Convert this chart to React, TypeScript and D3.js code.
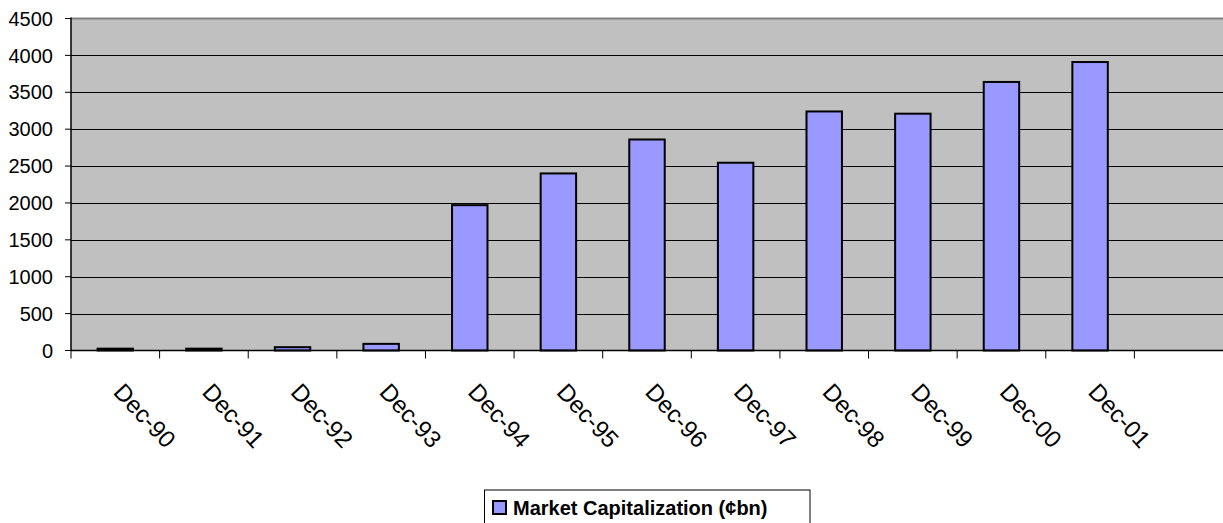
import React from "react";
import * as d3 from "d3";

const categories = ["Dec-90", "Dec-91", "Dec-92", "Dec-93", "Dec-94", "Dec-95", "Dec-96", "Dec-97", "Dec-98", "Dec-99", "Dec-00", "Dec-01", ""];
const marketCap: (number | null)[] = [25, 25, 45, 90, 1970, 2400, 2860, 2545, 3240, 3210, 3640, 3910, null];
const yTicks = [0, 500, 1000, 1500, 2000, 2500, 3000, 3500, 4000, 4500];
const seriesName = "Market Capitalization (¢bn)";

const W = 1223;
const H = 523;
const plotLeft = 71;
const plotRight = 1223;
const plotTop = 18.5;
const plotBottom = 350.5;
const FONT = "'Liberation Sans', Arial, Helvetica, sans-serif";

export default function App() {
  const x = d3.scaleBand<string>().domain(categories.map((c, i) => String(i))).range([plotLeft, plotRight]).padding(0);
  const y = d3.scaleLinear().domain([0, 4500]).range([plotBottom, plotTop]);
  const step = x.step();
  const barW = step * 0.4;

  return (
    <svg width={W} height={H} style={{ position: "absolute", left: 0, top: 0, background: "#fff" }} fontFamily={FONT}>
      <rect x={plotLeft} y={plotTop} width={plotRight - plotLeft} height={plotBottom - plotTop} fill="#C0C0C0" />
      {yTicks.filter((t) => t > 0 && t < 4500).map((t) => (
        <line key={"g" + t} x1={plotLeft} x2={plotRight} y1={Math.round(y(t)) + 0.5} y2={Math.round(y(t)) + 0.5} stroke="#000" strokeWidth={1} />
      ))}
      <line x1={plotLeft} x2={plotRight} y1={plotTop} y2={plotTop} stroke="#808080" strokeWidth={2} />
      {marketCap.map((v, i) =>
        v == null ? null : (
          <rect
            key={"b" + i}
            x={(x(String(i)) as number) + (step - barW) / 2}
            y={y(v)}
            width={barW}
            height={plotBottom - y(v)}
            fill="#9999FF"
            stroke="#000"
            strokeWidth={2}
          />
        )
      )}
      {/* y axis */}
      <line x1={plotLeft} x2={plotLeft} y1={plotTop - 1} y2={plotBottom} stroke="#000" strokeWidth={1.5} />
      {yTicks.map((t) => (
        <g key={"yt" + t}>
          <line x1={plotLeft - 6} x2={plotLeft} y1={y(t)} y2={y(t)} stroke="#000" strokeWidth={1} />
          <text x={53} y={y(t)} dy="0.36em" textAnchor="end" fontSize={20} fill="#000">
            {t}
          </text>
        </g>
      ))}
      {/* x axis */}
      <line x1={plotLeft} x2={plotRight} y1={plotBottom} y2={plotBottom} stroke="#000" strokeWidth={1.5} />
      {categories.map((c, i) => (
        <line key={"xt" + i} x1={x(String(i)) as number} x2={x(String(i)) as number} y1={plotBottom} y2={plotBottom + 8} stroke="#000" strokeWidth={1} />
      ))}
      {categories.map((c, i) => {
        const cx = (x(String(i)) as number) + step / 2;
        const tx = cx - 3;
        const ty = 393;
        return (
          <text key={"xl" + i} x={tx} y={ty} fontSize={24} fill="#000" transform={`rotate(47, ${tx}, ${ty})`}>
            {c}
          </text>
        );
      })}
      {/* legend */}
      <rect x={484.5} y={490} width={325.5} height={40} fill="#fff" stroke="#000" strokeWidth={1} />
      <rect x={493} y={501} width={13} height={13} fill="#9999FF" stroke="#000" strokeWidth={2} />
      <text x={513} y={515} fontSize={20} fontWeight="bold" fill="#000">
        {seriesName}
      </text>
    </svg>
  );
}
